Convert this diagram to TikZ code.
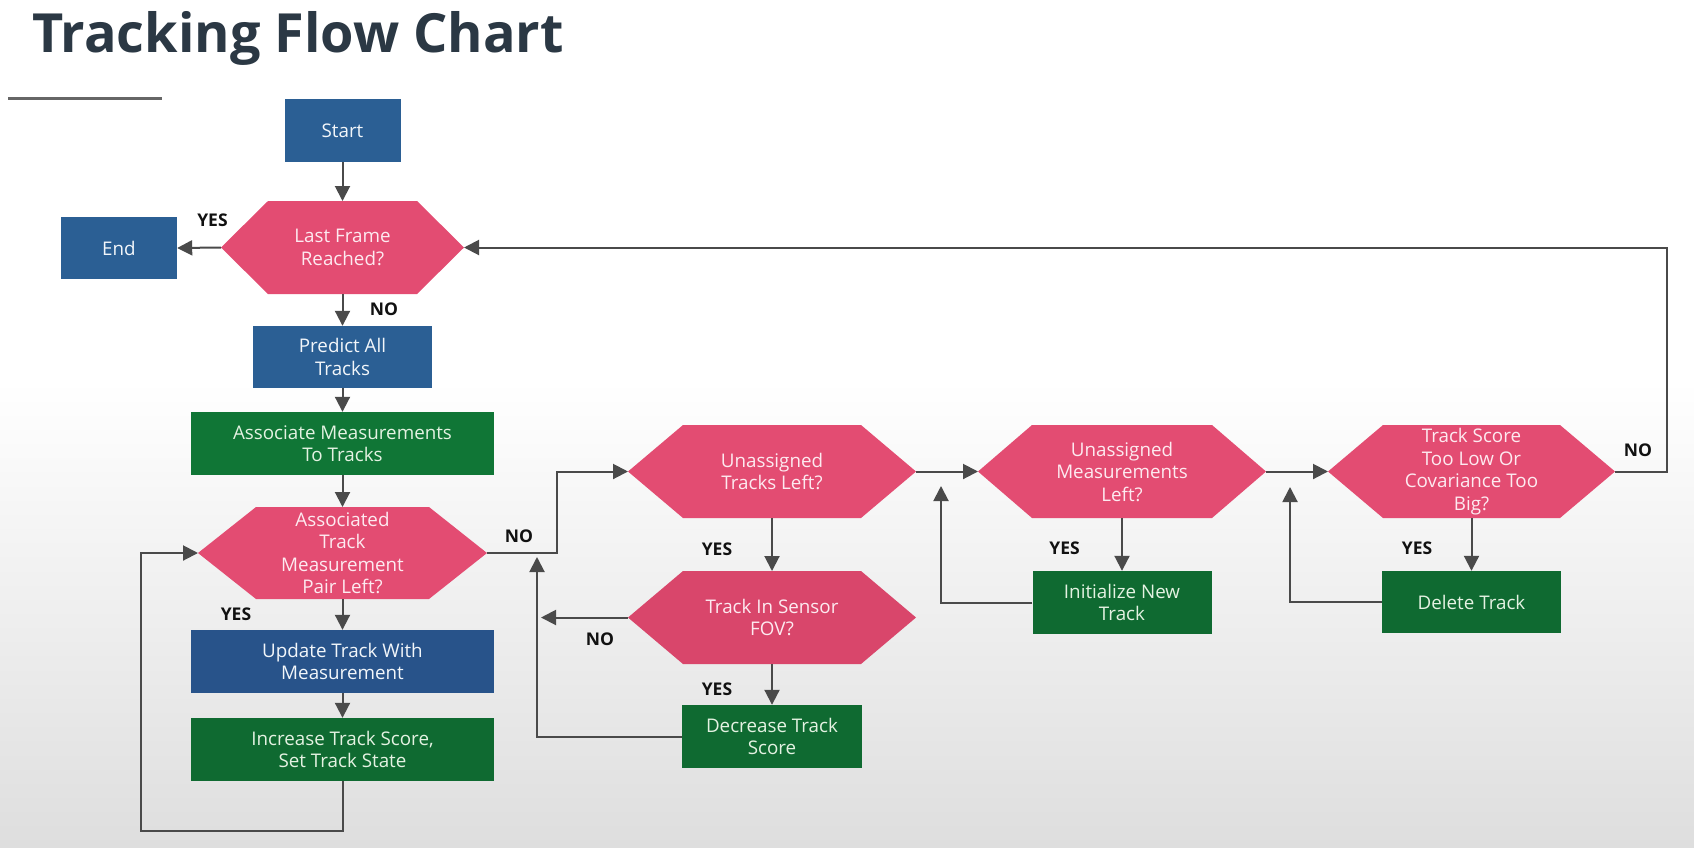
\documentclass[tikz,border=0pt]{standalone}
\usepackage{fontspec}
\setmainfont{Open Sans}
\usetikzlibrary{arrows.meta}
\definecolor{bluec}{HTML}{2B5F94}
\definecolor{bluedark}{HTML}{28538A}
\definecolor{greenc}{HTML}{107636}
\definecolor{greendark}{HTML}{0F6A31}
\definecolor{pinkc}{HTML}{E34C72}
\definecolor{pinkdark}{HTML}{D9466B}
\definecolor{bluetext}{HTML}{F2F6FA}
\definecolor{greentext}{HTML}{E4F2E2}
\definecolor{pinktext}{HTML}{FDEAF0}
\definecolor{linec}{HTML}{4A4A4A}
\definecolor{titlec}{HTML}{2B3844}
\definecolor{labc}{HTML}{111111}
\definecolor{bgbottom}{HTML}{DEDEDE}
\newcommand\myboxfont{\fontsize{18.8}{22.5}\selectfont}
\newcommand\mylabfont{\fontsize{17.5}{19}\selectfont\bfseries}
\newcommand\mytitlefont{\fontsize{54}{60}\selectfont\bfseries}
% name, cx, cy, half width, half height, inset, colour
\newcommand\myhex[7]{%
  \fill[#7] (#2-#4,#3) -- (#2-#4+#6,#3-#5) -- (#2+#4-#6,#3-#5) -- (#2+#4,#3)
    -- (#2+#4-#6,#3+#5) -- (#2-#4+#6,#3+#5) -- cycle;
  \coordinate (#1-w) at (#2-#4,#3);
  \coordinate (#1-e) at (#2+#4,#3);
  \coordinate (#1-n) at (#2,#3-#5);
  \coordinate (#1-s) at (#2,#3+#5);
}
\begin{document}
\begin{tikzpicture}[x=1pt,y=-1pt,
  conn/.style={draw=linec, line width=2pt},
  arr/.style={conn, -{Triangle[length=15pt,width=15pt]}},
  box/.style={rectangle, inner sep=0pt, align=center, font=\myboxfont},
  bbox/.style={box, fill=bluec, text=bluetext},
  gbox/.style={box, fill=greenc, text=greentext},
  hextext/.style={inner sep=0pt, align=center, font=\myboxfont, text=pinktext},
  lab/.style={font=\mylabfont, text=labc, inner sep=0pt}
]
\useasboundingbox (0,0) rectangle (1694,847);
\fill[white] (0,0) rectangle (1694,847);
\shade[top color=white, bottom color=bgbottom] (0,380) rectangle (1694,847);

% title
\node[anchor=base west, font=\mytitlefont, text=titlec, inner sep=0pt] (title) at (32,52) {Tracking Flow Chart};
\draw[draw=black!60, line width=3pt] (8,98) -- (162,98);

% boxes
\node[bbox, minimum width=116pt, minimum height=63pt] (start) at (342.5,130.5) {Start};
\node[bbox, minimum width=116pt, minimum height=62pt] (end) at (119,248) {End};
\myhex{lf}{342.5}{247.5}{121.5}{46.5}{47}{pinkc}
\node[hextext] (lft) at (342.5,247.5) {Last Frame\\Reached?};
\node[bbox, minimum width=179pt, minimum height=62pt] (predict) at (342.5,357) {Predict All\\Tracks};
\node[gbox, minimum width=303pt, minimum height=63pt] (associate) at (342.5,443.5) {Associate Measurements\\To Tracks};
\myhex{ah}{342.5}{553}{144.5}{46}{58}{pinkc}
\node[hextext] (aht) at (342.5,553) {Associated\\Track\\Measurement\\Pair Left?};
\node[bbox, fill=bluedark, minimum width=303pt, minimum height=63pt] (update) at (342.5,661.5) {Update Track With\\Measurement};
\node[gbox, fill=greendark, minimum width=303pt, minimum height=63pt] (increase) at (342.5,749.5) {Increase Track Score,\\Set Track State};

\myhex{ut}{772}{471.5}{144}{46.5}{55}{pinkc}
\node[hextext] (utt) at (772,471.5) {Unassigned\\Tracks Left?};
\myhex{tis}{772}{617.5}{144}{46.5}{55}{pinkdark}
\node[hextext] (tist) at (772,617.5) {Track In Sensor\\FOV?};
\node[gbox, fill=greendark, minimum width=180pt, minimum height=63pt] (decrease) at (772,736.5) {Decrease Track\\Score};

\myhex{um}{1122}{471.5}{144}{46.5}{54}{pinkc}
\node[hextext] (umt) at (1122,471.5) {Unassigned\\Measurements\\Left?};
\node[gbox, fill=greendark, minimum width=179pt, minimum height=63pt] (init) at (1122,602.5) {Initialize New\\Track};

\myhex{ts}{1471.5}{471.5}{143.5}{46.5}{55}{pinkc}
\node[hextext] (tst) at (1471.5,471.5) {Track Score\\Too Low Or\\Covariance Too\\Big?};
\node[gbox, fill=greendark, minimum width=179pt, minimum height=62pt] (delete) at (1471.5,602) {Delete Track};

% coordinates
\coordinate (loopA) at (141,831);
\coordinate (j1) at (557,471.5);
\coordinate (tisno) at (541,617.5);
\coordinate (ret1) at (537,557);
\coordinate (ret2) at (941,486);
\coordinate (ret3) at (1290,487);
\coordinate (j2) at (1667,247.5);

% connectors
\draw[arr] (start.south) -- (lf-n);
\draw[arr] (lf-w) -- (end.east);
\draw[arr] (lf-s) -- (predict.north);
\draw[arr] (predict.south) -- (associate.north);
\draw[arr] (associate.south) -- (ah-n);
\draw[arr] (ah-s) -- (update.north);
\draw[arr] (update.south) -- (increase.north);
\draw[arr] (increase.south) |- (loopA) |- (ah-w);
\draw[arr] (ah-e) -| (j1) -- (ut-w);
\draw[arr] (ut-s) -- (tis-n);
\draw[arr] (tis-w) -- (tisno);
\draw[arr] (tis-s) -- (decrease.north);
\draw[arr] (decrease.west) -| (ret1);
\draw[arr] (ut-e) -- (um-w);
\draw[arr] (um-s) -- (init.north);
\draw[arr] (init.west) -| (ret2);
\draw[arr] (um-e) -- (ts-w);
\draw[arr] (ts-s) -- (delete.north);
\draw[arr] (delete.west) -| (ret3);
\draw[arr] (ts-e) -| (j2) -- (lf-e);

% labels
\node[lab] (l1) at (212.5,220) {YES};
\node[lab] (l2) at (384,309.5) {NO};
\node[lab] (l3) at (236,614) {YES};
\node[lab] (l4) at (519,536) {NO};
\node[lab] (l5) at (717,549) {YES};
\node[lab] (l6) at (600,639.5) {NO};
\node[lab] (l7) at (717,689) {YES};
\node[lab] (l8) at (1064.5,548) {YES};
\node[lab] (l9) at (1417,548) {YES};
\node[lab] (l10) at (1638,450.5) {NO};
\end{tikzpicture}
\end{document}
